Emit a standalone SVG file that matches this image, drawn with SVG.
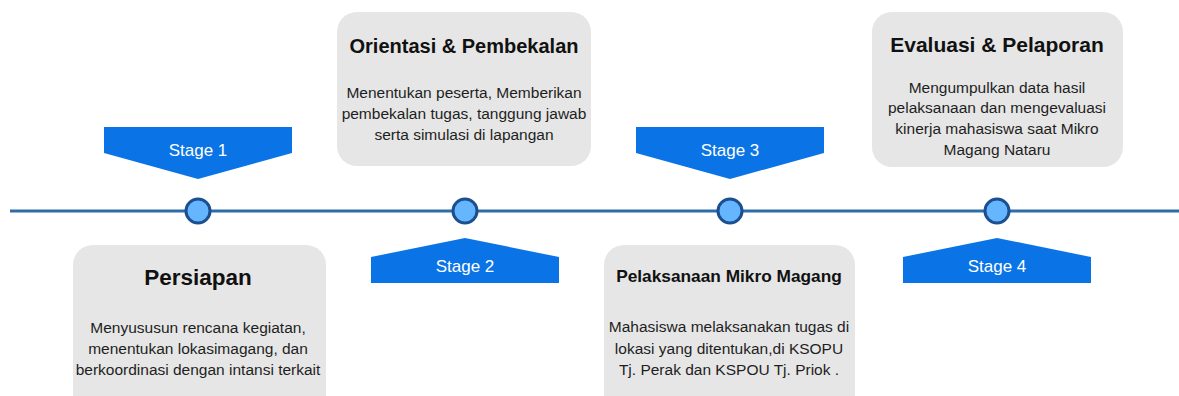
<svg xmlns="http://www.w3.org/2000/svg" width="1179" height="396" viewBox="0 0 1179 396">
<style>
.box{fill:#E6E6E6;}
.stage{fill:#0A74E6;}
.dot{fill:#66B5FF;stroke:#1B4F8F;stroke-width:3;}
.lbl{font-family:"Liberation Sans",Arial,sans-serif;font-size:17px;fill:#FFFFFF;text-anchor:middle;}
.title{font-family:"Liberation Sans",Arial,sans-serif;font-weight:bold;fill:#111111;text-anchor:middle;}
.body{font-family:"Liberation Sans",Arial,sans-serif;font-size:15.5px;fill:#1E1E1E;text-anchor:middle;}
</style>
<rect width="1179" height="396" fill="#FFFFFF"/>
<g id="connectors">
<line x1="10" y1="211" x2="1179" y2="211" stroke="#2E6DA8" stroke-width="3"/>
</g>
<g id="stage1">
<polygon class="stage" points="104,127 292,127 292,153 198,179 104,153"/>
<text class="lbl" x="198" y="156">Stage 1</text>
<circle class="dot" cx="198" cy="211" r="12"/>
</g>
<g id="stage2">
<polygon class="stage" points="465,238 559,257 559,283 371,283 371,257"/>
<text class="lbl" x="465" y="272">Stage 2</text>
<circle class="dot" cx="465" cy="211" r="12"/>
</g>
<g id="stage3">
<polygon class="stage" points="636,127 824,127 824,153 730,179 636,153"/>
<text class="lbl" x="730" y="156">Stage 3</text>
<circle class="dot" cx="730" cy="211" r="12"/>
</g>
<g id="stage4">
<polygon class="stage" points="997,238 1091,257 1091,283 903,283 903,257"/>
<text class="lbl" x="997" y="272">Stage 4</text>
<circle class="dot" cx="997" cy="211" r="12"/>
</g>
<g id="persiapan">
<rect class="box" x="73" y="245" width="253" height="175" rx="20"/>
<text class="title" x="198" y="285" font-size="22.5">Persiapan</text>
<text class="body" x="198" y="333">Menyususun rencana kegiatan,</text>
<text class="body" x="198" y="354">menentukan lokasimagang, dan</text>
<text class="body" x="198" y="375">berkoordinasi dengan intansi terkait</text>
</g>
<g id="orientasi">
<rect class="box" x="337" y="12" width="254" height="154" rx="20"/>
<text class="title" x="464" y="53" font-size="20">Orientasi &amp; Pembekalan</text>
<text class="body" x="464" y="98">Menentukan peserta, Memberikan</text>
<text class="body" x="464" y="119">pembekalan tugas, tanggung jawab</text>
<text class="body" x="464" y="140">serta simulasi di lapangan</text>
</g>
<g id="pelaksanaan">
<rect class="box" x="604" y="245" width="251" height="175" rx="20"/>
<text class="title" x="729" y="282" font-size="17.3">Pelaksanaan Mikro Magang</text>
<text class="body" x="729" y="332">Mahasiswa melaksanakan tugas di</text>
<text class="body" x="729" y="354">lokasi yang ditentukan,di KSOPU</text>
<text class="body" x="729" y="375">Tj. Perak dan KSPOU Tj. Priok .</text>
</g>
<g id="evaluasi">
<rect class="box" x="872" y="12" width="251" height="155" rx="20"/>
<text class="title" x="997" y="52" font-size="21">Evaluasi &amp; Pelaporan</text>
<text class="body" x="997" y="93">Mengumpulkan data hasil</text>
<text class="body" x="997" y="113">pelaksanaan dan mengevaluasi</text>
<text class="body" x="997" y="134">kinerja mahasiswa saat Mikro</text>
<text class="body" x="997" y="155">Magang Nataru</text>
</g>
</svg>
